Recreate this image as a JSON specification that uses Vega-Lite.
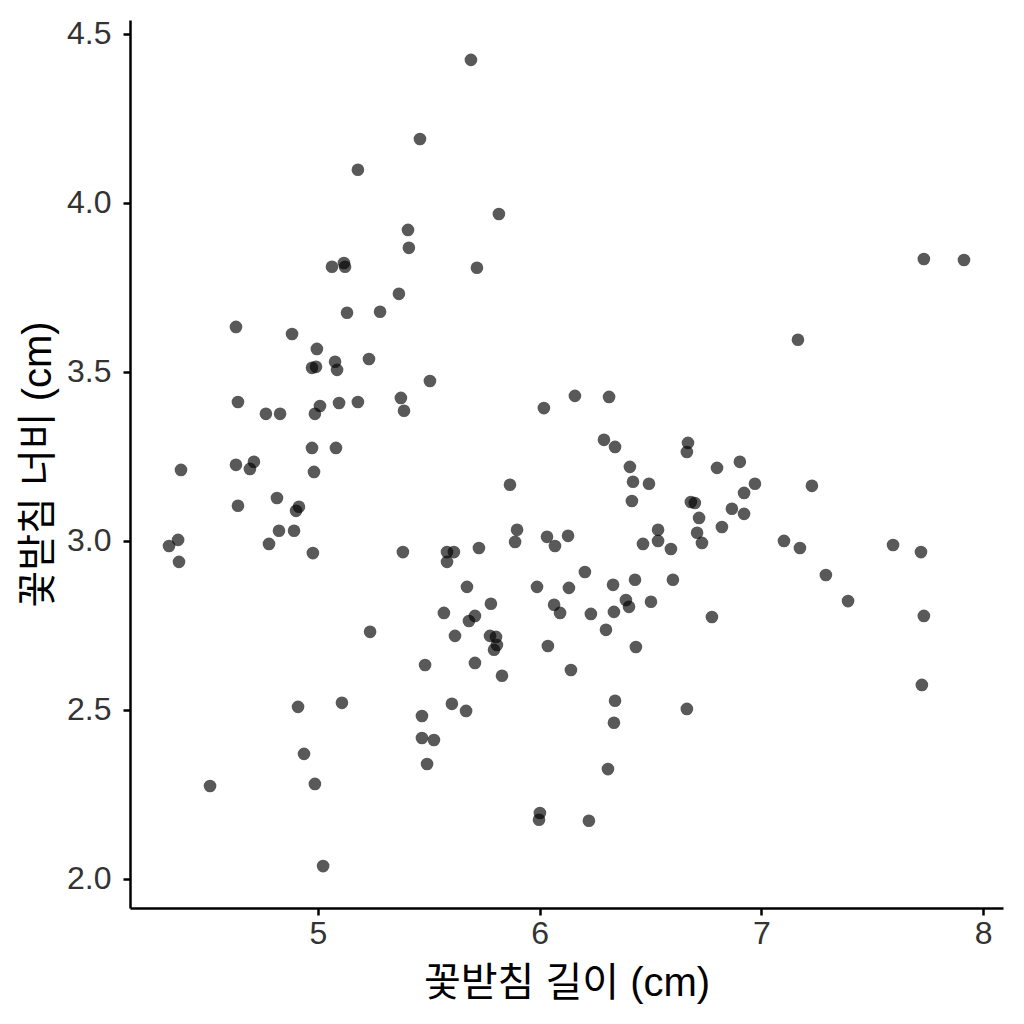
{
  "$schema": "https://vega.github.io/schema/vega-lite/v6.json",
  "width": 873,
  "height": 888,
  "autosize": {"type": "none"},
  "padding": {"left": 130, "top": 20, "right": 21, "bottom": 116},
  "background": "white",
  "config": {
    "view": {"stroke": null},
    "font": "Liberation Sans, Noto Sans CJK KR"
  },
  "data": {
    "values": [
      {"sepal_length": 5.460, "sepal_width": 4.189},
      {"sepal_length": 5.180, "sepal_width": 4.098},
      {"sepal_length": 5.406, "sepal_width": 3.920},
      {"sepal_length": 5.410, "sepal_width": 3.867},
      {"sepal_length": 5.063, "sepal_width": 3.811},
      {"sepal_length": 5.117, "sepal_width": 3.822},
      {"sepal_length": 5.122, "sepal_width": 3.811},
      {"sepal_length": 5.365, "sepal_width": 3.731},
      {"sepal_length": 4.630, "sepal_width": 3.633},
      {"sepal_length": 4.883, "sepal_width": 3.612},
      {"sepal_length": 5.131, "sepal_width": 3.675},
      {"sepal_length": 5.280, "sepal_width": 3.678},
      {"sepal_length": 4.995, "sepal_width": 3.568},
      {"sepal_length": 4.973, "sepal_width": 3.512},
      {"sepal_length": 4.991, "sepal_width": 3.515},
      {"sepal_length": 5.077, "sepal_width": 3.530},
      {"sepal_length": 5.086, "sepal_width": 3.506},
      {"sepal_length": 5.230, "sepal_width": 3.538},
      {"sepal_length": 5.505, "sepal_width": 3.473},
      {"sepal_length": 4.639, "sepal_width": 3.411},
      {"sepal_length": 4.765, "sepal_width": 3.376},
      {"sepal_length": 4.829, "sepal_width": 3.376},
      {"sepal_length": 5.009, "sepal_width": 3.399},
      {"sepal_length": 4.986, "sepal_width": 3.376},
      {"sepal_length": 5.095, "sepal_width": 3.408},
      {"sepal_length": 5.180, "sepal_width": 3.411},
      {"sepal_length": 5.374, "sepal_width": 3.423},
      {"sepal_length": 5.388, "sepal_width": 3.385},
      {"sepal_length": 4.973, "sepal_width": 3.275},
      {"sepal_length": 5.081, "sepal_width": 3.275},
      {"sepal_length": 4.382, "sepal_width": 3.210},
      {"sepal_length": 4.630, "sepal_width": 3.225},
      {"sepal_length": 4.711, "sepal_width": 3.234},
      {"sepal_length": 4.693, "sepal_width": 3.213},
      {"sepal_length": 4.982, "sepal_width": 3.204},
      {"sepal_length": 4.639, "sepal_width": 3.104},
      {"sepal_length": 4.815, "sepal_width": 3.127},
      {"sepal_length": 4.914, "sepal_width": 3.101},
      {"sepal_length": 4.901, "sepal_width": 3.089},
      {"sepal_length": 4.824, "sepal_width": 3.030},
      {"sepal_length": 4.892, "sepal_width": 3.030},
      {"sepal_length": 4.369, "sepal_width": 3.003},
      {"sepal_length": 4.328, "sepal_width": 2.985},
      {"sepal_length": 4.373, "sepal_width": 2.938},
      {"sepal_length": 4.779, "sepal_width": 2.991},
      {"sepal_length": 4.977, "sepal_width": 2.964},
      {"sepal_length": 5.383, "sepal_width": 2.967},
      {"sepal_length": 5.235, "sepal_width": 2.731},
      {"sepal_length": 5.483, "sepal_width": 2.633},
      {"sepal_length": 4.910, "sepal_width": 2.509},
      {"sepal_length": 5.108, "sepal_width": 2.521},
      {"sepal_length": 5.469, "sepal_width": 2.482},
      {"sepal_length": 5.469, "sepal_width": 2.417},
      {"sepal_length": 5.523, "sepal_width": 2.411},
      {"sepal_length": 5.492, "sepal_width": 2.340},
      {"sepal_length": 4.937, "sepal_width": 2.370},
      {"sepal_length": 4.986, "sepal_width": 2.281},
      {"sepal_length": 4.513, "sepal_width": 2.275},
      {"sepal_length": 5.023, "sepal_width": 2.038},
      {"sepal_length": 5.690, "sepal_width": 4.423},
      {"sepal_length": 5.816, "sepal_width": 3.967},
      {"sepal_length": 5.717, "sepal_width": 3.808},
      {"sepal_length": 6.159, "sepal_width": 3.429},
      {"sepal_length": 6.313, "sepal_width": 3.426},
      {"sepal_length": 6.019, "sepal_width": 3.393},
      {"sepal_length": 6.290, "sepal_width": 3.299},
      {"sepal_length": 6.340, "sepal_width": 3.278},
      {"sepal_length": 6.669, "sepal_width": 3.290},
      {"sepal_length": 6.664, "sepal_width": 3.263},
      {"sepal_length": 6.407, "sepal_width": 3.219},
      {"sepal_length": 6.800, "sepal_width": 3.216},
      {"sepal_length": 5.866, "sepal_width": 3.166},
      {"sepal_length": 6.421, "sepal_width": 3.175},
      {"sepal_length": 6.493, "sepal_width": 3.169},
      {"sepal_length": 6.416, "sepal_width": 3.118},
      {"sepal_length": 6.682, "sepal_width": 3.115},
      {"sepal_length": 6.700, "sepal_width": 3.112},
      {"sepal_length": 6.719, "sepal_width": 3.068},
      {"sepal_length": 6.822, "sepal_width": 3.041},
      {"sepal_length": 6.710, "sepal_width": 3.024},
      {"sepal_length": 6.732, "sepal_width": 2.994},
      {"sepal_length": 6.534, "sepal_width": 3.033},
      {"sepal_length": 6.534, "sepal_width": 3.000},
      {"sepal_length": 6.466, "sepal_width": 2.991},
      {"sepal_length": 6.592, "sepal_width": 2.976},
      {"sepal_length": 5.898, "sepal_width": 3.033},
      {"sepal_length": 5.889, "sepal_width": 2.997},
      {"sepal_length": 6.033, "sepal_width": 3.012},
      {"sepal_length": 6.069, "sepal_width": 2.985},
      {"sepal_length": 6.128, "sepal_width": 3.015},
      {"sepal_length": 5.582, "sepal_width": 2.967},
      {"sepal_length": 5.613, "sepal_width": 2.967},
      {"sepal_length": 5.582, "sepal_width": 2.938},
      {"sepal_length": 5.726, "sepal_width": 2.979},
      {"sepal_length": 6.204, "sepal_width": 2.908},
      {"sepal_length": 5.672, "sepal_width": 2.864},
      {"sepal_length": 5.988, "sepal_width": 2.864},
      {"sepal_length": 6.132, "sepal_width": 2.861},
      {"sepal_length": 6.331, "sepal_width": 2.870},
      {"sepal_length": 6.430, "sepal_width": 2.885},
      {"sepal_length": 6.601, "sepal_width": 2.885},
      {"sepal_length": 5.780, "sepal_width": 2.814},
      {"sepal_length": 6.065, "sepal_width": 2.811},
      {"sepal_length": 6.092, "sepal_width": 2.787},
      {"sepal_length": 6.389, "sepal_width": 2.825},
      {"sepal_length": 6.403, "sepal_width": 2.805},
      {"sepal_length": 6.502, "sepal_width": 2.820},
      {"sepal_length": 5.568, "sepal_width": 2.787},
      {"sepal_length": 5.708, "sepal_width": 2.778},
      {"sepal_length": 5.681, "sepal_width": 2.763},
      {"sepal_length": 6.231, "sepal_width": 2.784},
      {"sepal_length": 6.335, "sepal_width": 2.790},
      {"sepal_length": 6.777, "sepal_width": 2.775},
      {"sepal_length": 6.299, "sepal_width": 2.737},
      {"sepal_length": 5.618, "sepal_width": 2.719},
      {"sepal_length": 5.776, "sepal_width": 2.719},
      {"sepal_length": 5.803, "sepal_width": 2.716},
      {"sepal_length": 5.807, "sepal_width": 2.692},
      {"sepal_length": 5.794, "sepal_width": 2.678},
      {"sepal_length": 6.037, "sepal_width": 2.689},
      {"sepal_length": 6.434, "sepal_width": 2.686},
      {"sepal_length": 5.708, "sepal_width": 2.639},
      {"sepal_length": 5.830, "sepal_width": 2.601},
      {"sepal_length": 6.141, "sepal_width": 2.618},
      {"sepal_length": 5.604, "sepal_width": 2.518},
      {"sepal_length": 5.668, "sepal_width": 2.497},
      {"sepal_length": 6.340, "sepal_width": 2.527},
      {"sepal_length": 6.335, "sepal_width": 2.462},
      {"sepal_length": 6.664, "sepal_width": 2.503},
      {"sepal_length": 6.308, "sepal_width": 2.325},
      {"sepal_length": 6.001, "sepal_width": 2.195},
      {"sepal_length": 5.997, "sepal_width": 2.175},
      {"sepal_length": 6.222, "sepal_width": 2.172},
      {"sepal_length": 7.733, "sepal_width": 3.834},
      {"sepal_length": 7.914, "sepal_width": 3.831},
      {"sepal_length": 7.165, "sepal_width": 3.595},
      {"sepal_length": 6.903, "sepal_width": 3.234},
      {"sepal_length": 6.971, "sepal_width": 3.169},
      {"sepal_length": 6.922, "sepal_width": 3.142},
      {"sepal_length": 7.228, "sepal_width": 3.163},
      {"sepal_length": 6.867, "sepal_width": 3.095},
      {"sepal_length": 6.922, "sepal_width": 3.080},
      {"sepal_length": 7.102, "sepal_width": 3.000},
      {"sepal_length": 7.174, "sepal_width": 2.979},
      {"sepal_length": 7.594, "sepal_width": 2.988},
      {"sepal_length": 7.720, "sepal_width": 2.967},
      {"sepal_length": 7.291, "sepal_width": 2.899},
      {"sepal_length": 7.391, "sepal_width": 2.822},
      {"sepal_length": 7.733, "sepal_width": 2.778},
      {"sepal_length": 7.724, "sepal_width": 2.574}
    ]
  },
  "mark": {
    "type": "circle",
    "color": "black",
    "opacity": 0.65,
    "size": 160,
    "strokeWidth": 0
  },
  "encoding": {
    "x": {
      "field": "sepal_length",
      "type": "quantitative",
      "title": "꽃받침 길이 (cm)",
      "scale": {"domain": [4.152, 8.09], "nice": false, "zero": false},
      "axis": {
        "values": [5, 6, 7, 8],
        "format": "d",
        "grid": false,
        "domainColor": "black",
        "domainWidth": 2.5,
        "tickColor": "black",
        "tickWidth": 2.5,
        "tickSize": 7,
        "labelFontSize": 32,
        "labelColor": "#333333",
        "labelPadding": 3,
        "titleFontSize": 40,
        "titleFontWeight": "normal",
        "titleColor": "black",
        "titlePadding": 14
      }
    },
    "y": {
      "field": "sepal_width",
      "type": "quantitative",
      "title": "꽃받침 너비 (cm)",
      "scale": {"domain": [1.914, 4.541], "nice": false, "zero": false},
      "axis": {
        "values": [2.0, 2.5, 3.0, 3.5, 4.0, 4.5],
        "format": ".1f",
        "grid": false,
        "domainColor": "black",
        "domainWidth": 2.5,
        "tickColor": "black",
        "tickWidth": 2.5,
        "tickSize": 7,
        "labelFontSize": 32,
        "labelColor": "#333333",
        "labelPadding": 12,
        "titleFontSize": 40,
        "titleFontWeight": "normal",
        "titleColor": "black",
        "titlePadding": 8
      }
    }
  }
}
